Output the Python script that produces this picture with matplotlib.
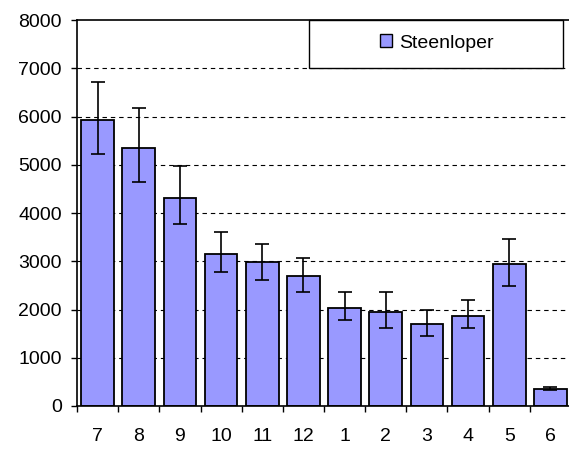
import matplotlib.pyplot as plt
from matplotlib.patches import Patch, Rectangle
import numpy as np

plt.rcParams['font.family'] = ['Liberation Sans', 'DejaVu Sans']

# data
months = ['7', '8', '9', '10', '11', '12', '1', '2', '3', '4', '5', '6']
values = [5920, 5345, 4305, 3145, 2980, 2690, 2025, 1940, 1695, 1860, 2945, 360]
err_up = [795, 830, 670, 455, 380, 370, 330, 415, 295, 335, 525, 35]
err_down = [705, 710, 540, 365, 375, 335, 250, 330, 250, 250, 465, 35]
series_name = 'Steenloper'
yticks = [0, 1000, 2000, 3000, 4000, 5000, 6000, 7000, 8000]

fig = plt.figure(figsize=(5.69, 4.5), dpi=100, facecolor='white')
W, H = 569, 450
ax = fig.add_axes([77 / W, (H - 406) / H, 494 / W, 386 / H])

x = np.arange(len(months))
ax.bar(x, values, width=0.79, color='#9999FF', edgecolor='black',
       linewidth=1.3, zorder=2)
ax.errorbar(x, values, yerr=[err_down, err_up], fmt='none', ecolor='black',
            elinewidth=1.2, capsize=5, capthick=1.2, zorder=3)

ax.set_xlim(-0.5, len(months) - 0.5)
ax.set_ylim(0, 8000)
ax.set_yticks(yticks)
ax.set_yticklabels([str(v) for v in yticks], fontsize=14)

# category labels centred, ticks on category boundaries
ax.set_xticks(x)
ax.set_xticklabels(months, fontsize=14)
ax.tick_params(axis='x', which='major', length=0, pad=16)
ax.set_xticks(np.arange(-0.5, len(months)), minor=True)
ax.tick_params(axis='x', which='minor', length=4, width=1, direction='out')
ax.tick_params(axis='y', length=4, width=1, direction='out', pad=7)

for v in yticks[1:-1]:
    ax.axhline(v, color='black', linestyle=(0, (4, 3.5)), linewidth=0.8, zorder=1)

for side in ['left', 'bottom', 'top']:
    ax.spines[side].set_linewidth(1.2)
ax.spines['right'].set_visible(False)

# legend box
box = Rectangle((309 / W, (H - 68) / H), (563 - 309) / W, 48 / H,
                transform=fig.transFigure, facecolor='white', edgecolor='black',
                linewidth=1.0, zorder=5)
fig.add_artist(box)
handle = Patch(facecolor='#9999FF', edgecolor='black', linewidth=1.0)
fig.legend([handle], [series_name], loc='center',
           bbox_to_anchor=(437 / W, (H - 43) / H), frameon=False, fontsize=14,
           handlelength=0.6, handleheight=0.6, handletextpad=0.4)

fig.savefig('out.png', dpi=100, facecolor='white')
